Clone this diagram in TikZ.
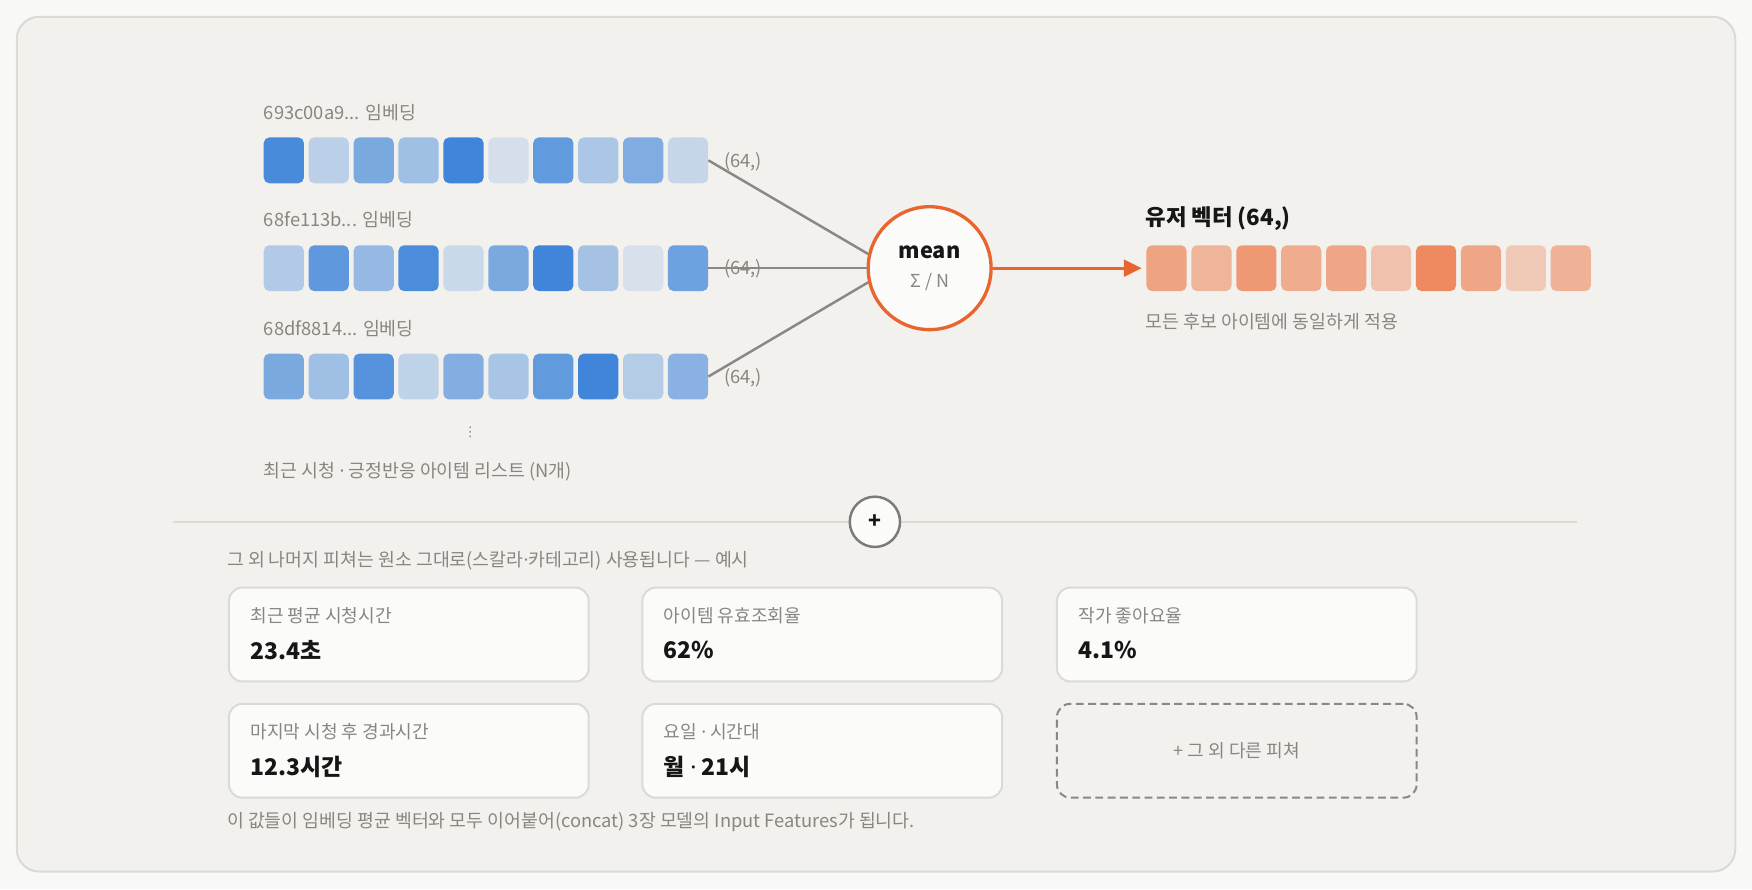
\documentclass[tikz,border=0pt]{standalone}
\usepackage{fontspec}
\setmainfont{Noto Sans CJK KR}
\newfontfamily\lat{Noto Sans}
\newfontfamily\dejavu{DejaVu Sans}
\newcommand{\mdot}{{\lat ·}}
\usetikzlibrary{arrows.meta}
\definecolor{pagebg}{HTML}{F8F8F6}
\definecolor{panelbg}{HTML}{F2F1EE}
\definecolor{panelline}{HTML}{DCDAD5}
\definecolor{bluebase}{HTML}{3A82D9}
\definecolor{orangebase}{HTML}{EC7440}
\definecolor{accent}{HTML}{E8652F}
\definecolor{txtgray}{HTML}{878681}
\definecolor{linegray}{HTML}{8A8884}
\definecolor{cardbg}{HTML}{FBFBFA}
\definecolor{ink}{HTML}{161616}
\tikzset{
  sq/.style={rectangle, rounded corners=5pt, inner sep=0pt, minimum width=36pt, minimum height=41pt, draw=none},
  lbl/.style={anchor=west, text=txtgray, font=\fontsize{16.4}{19}\selectfont, inner sep=0pt},
  dimlbl/.style={anchor=west, text=txtgray, font=\fontsize{16.4}{19}\selectfont, inner sep=0pt},
  conn/.style={draw=linegray, line width=2.2pt},
  card/.style={rectangle, rounded corners=12pt, fill=cardbg, draw=panelline, line width=1.8pt, minimum width=322pt, minimum height=84pt, anchor=north west, inner sep=0pt},
  dcard/.style={rectangle, rounded corners=12pt, draw=linegray, dash pattern=on 7pt off 4pt, line width=1.8pt, minimum width=322pt, minimum height=84pt, anchor=north west, inner sep=0pt},
  cardlbl/.style={anchor=west, text=txtgray, font=\fontsize{16.2}{19}\selectfont, inner sep=0pt},
  cardval/.style={anchor=west, text=ink, font=\fontsize{20.5}{24}\selectfont\bfseries, inner sep=0pt},
}
\begin{document}
\begin{tikzpicture}[x=1pt,y=-1pt]
\useasboundingbox (0,0) rectangle (1568,796);
\fill[pagebg] (0,0) rectangle (1568,796);
\draw[fill=panelbg, draw=panelline, line width=1.8pt, rounded corners=20pt] (15,15) rectangle (1553,780);

% embedding rows
\node[lbl] (l1) at (236,101) {693c00a9... 임베딩};
\node[lbl] (l2) at (236,197) {68fe113b... 임베딩};
\node[lbl] (l3) at (236,294) {68df8814... 임베딩};
\foreach \v [count=\i] in {92,30,65,45,97,16,78,38,62,24}
  \node[sq, fill=bluebase!\v!panelbg] (a\i) at ({254+(\i-1)*40.2},143.5) {};
\foreach \v [count=\i] in {35,80,50,90,22,65,97,42,14,72}
  \node[sq, fill=bluebase!\v!panelbg] (b\i) at ({254+(\i-1)*40.2},240) {};
\foreach \v [count=\i] in {65,45,85,28,60,40,78,97,33,57}
  \node[sq, fill=bluebase!\v!panelbg] (c\i) at ({254+(\i-1)*40.2},337) {};

\node[dimlbl] (d1) at (648,145) {(64,)};
\node[dimlbl] (d2) at (648,241) {(64,)};
\node[dimlbl] (d3) at (648,338) {(64,)};

% mean circle
\node[circle, minimum size=110pt, inner sep=0pt, fill=cardbg, draw=accent, line width=3pt] (mean) at (832,240) {};
\node[font=\fontsize{19.5}{22}\selectfont\bfseries, text=ink, inner sep=0pt] (meant) at (832,226) {mean};
\node[font=\fontsize{16}{19}\selectfont, text=txtgray, inner sep=0pt] (meanf) at (832,252) {Σ / N};

\draw[conn] (a10.east) -- (mean.167);
\draw[conn] (b10.east) -- (mean.west);
\draw[conn] (c10.east) -- (mean.193);

% user vector
\node[anchor=west, inner sep=0pt, text=ink, font=\fontsize{20}{23}\selectfont\bfseries] (ut) at (1025,196) {유저 벡터 (64,)};
\foreach \v [count=\i] in {62,48,70,55,60,38,82,60,32,50}
  \node[sq, fill=orangebase!\v!panelbg] (o\i) at ({1044+(\i-1)*40.2},240) {};
\node[lbl] (ul) at (1025,288) {모든 후보 아이템에 동일하게 적용};
\draw[draw=accent, line width=2.5pt, -{Triangle[length=16pt,width=15pt]}, shorten >=4pt] (mean.east) -- (o1.west);

\node[text=txtgray, inner sep=0pt, font=\dejavu\fontsize{12}{14}\selectfont] (dots) at (421,387) {⋮};
\node[lbl] (list) at (236,422) {최근 시청 \mdot{} 긍정반응 아이템 리스트 (N개)};

% divider and plus
\coordinate (divl) at (155,467);
\coordinate (divr) at (1411,467);
\draw[draw=panelline, line width=1.8pt] (divl) -- (divr);
\node[circle, minimum size=45pt, inner sep=0pt, fill=cardbg, draw=linegray!90!black, line width=2.2pt, font=\fontsize{19}{21}\selectfont\bfseries, text=ink] (plus) at (783,467) {+};

\node[lbl] (other) at (203,502) {그 외 나머지 피쳐는 원소 그대로(스칼라\mdot{}카테고리) 사용됩니다 — 예시};

% cards
\node[card] (c1) at (204,525) {};
\node[card] (c2) at (574,525) {};
\node[card] (c3) at (945,525) {};
\node[card] (c4) at (204,629) {};
\node[card] (c5) at (574,629) {};
\node[dcard] (c6) at (945,629) {};

\node[cardlbl] (c1l) at (224,551) {최근 평균 시청시간};
\node[cardval] (c1v) at (224,582) {23.4초};
\node[cardlbl] (c2l) at (594,551) {아이템 유효조회율};
\node[cardval] (c2v) at (594,582) {62\%};
\node[cardlbl] (c3l) at (965,551) {작가 좋아요율};
\node[cardval] (c3v) at (965,582) {4.1\%};
\node[cardlbl] (c4l) at (224,655) {마지막 시청 후 경과시간};
\node[cardval] (c4v) at (224,686) {12.3시간};
\node[cardlbl] (c5l) at (594,655) {요일 \mdot{} 시간대};
\node[cardval] (c5v) at (594,686) {월 {\lat\mdseries ·} 21시};
\node[text=txtgray, font=\fontsize{16.2}{19}\selectfont, inner sep=0pt] (c6l) at (c6.center) {+ 그 외 다른 피쳐};

\node[lbl] (foot) at (203,736) {이 값들이 임베딩 평균 벡터와 모두 이어붙어(concat) 3장 모델의 Input Features가 됩니다.};
\end{tikzpicture}
\end{document}
